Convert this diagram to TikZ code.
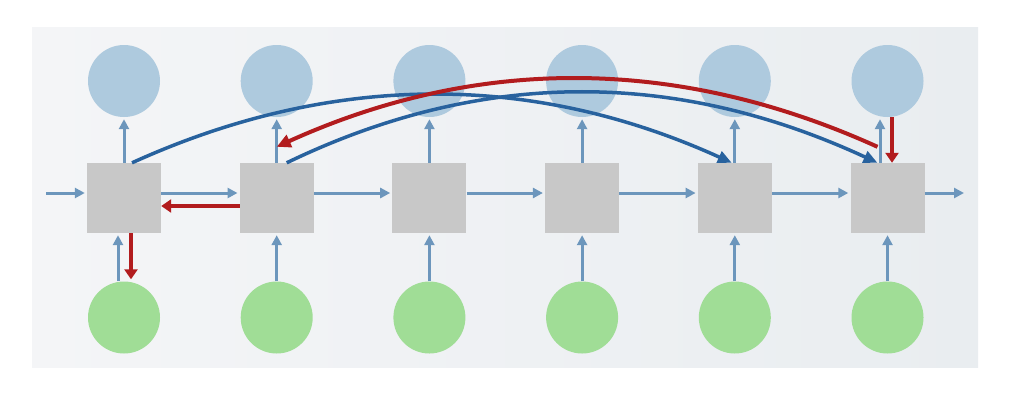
\documentclass[tikz,border=0pt]{standalone}
\usetikzlibrary{arrows.meta}
\definecolor{bgL}{RGB}{244,245,247}
\definecolor{bgR}{RGB}{233,237,240}
\definecolor{outc}{RGB}{174,202,222}
\definecolor{inc}{RGB}{160,221,150}
\definecolor{boxc}{RGB}{200,200,200}
\definecolor{arrc}{RGB}{108,150,188}
\definecolor{curvc}{RGB}{40,98,158}
\definecolor{redc}{RGB}{178,28,30}
\begin{document}
\begin{tikzpicture}[x=1pt,y=-1pt,
  cell/.style={rectangle, fill=boxc, minimum width=74pt, minimum height=70pt, inner sep=0pt},
  outn/.style={circle, fill=outc, minimum size=72pt, inner sep=0pt},
  inn/.style={circle, fill=inc, minimum size=72pt, inner sep=0pt},
  barrow/.style={draw=arrc, line width=3pt, -{Triangle[length=10pt,width=10pt]}, shorten >=2pt},
  rarrow/.style={draw=redc, line width=4.5pt, -{Triangle[length=10pt,width=13pt]}},
  bcurve/.style={draw=curvc, line width=3.5pt, -{Triangle[length=14pt,width=12pt]}},
  rcurve/.style={draw=redc, line width=4pt, -{Triangle[length=14pt,width=13pt]}}]
\useasboundingbox (0,0) rectangle (1024,413);
\fill[white] (0,0) rectangle (1024,413);
\shade[left color=bgL, right color=bgR] (32,27) rectangle (978,367);
% nodes
\foreach \i in {1,...,6}{
  \node[cell] (b\i) at ({124+152.7*(\i-1)},198) {};
  \node[outn] (o\i) at ({124+152.7*(\i-1)},81) {};
  \node[inn]  (g\i) at ({124+152.7*(\i-1)},317.5) {};
}
\coordinate (inp) at (46,193);
\coordinate (outp) at (966,193);
% horizontal chain
\draw[barrow] (inp) -- ([yshift=5pt]b1.west);
\foreach \i/\j in {1/2,2/3,3/4,4/5,5/6}
  \draw[barrow] ([yshift=5pt]b\i.east) -- ([yshift=5pt]b\j.west);
\draw[barrow] ([yshift=5pt]b6.east) -- (outp);
% vertical arrows
\foreach \i in {1,...,5}
  \draw[barrow] (b\i.north) -- (o\i.south);
\draw[barrow] ([xshift=-7.5pt]b6.north) -- ([xshift=-7.5pt]o6.south);
\foreach \i in {2,...,6}
  \draw[barrow] (g\i.north) -- (b\i.south);
\draw[barrow] ([xshift=-6pt]g1.north) -- ([xshift=-6pt]b1.south);
% red short arrows
\draw[rarrow] ([xshift=4.5pt]o6.south) -- ([xshift=4.5pt]b6.north);
\draw[rarrow] ([yshift=-8pt]b2.west) -- ([yshift=-8pt]b1.east);
\draw[rarrow] ([xshift=7pt]b1.south) -- ([xshift=7pt,yshift=2pt]g1.north);
% long curves
\draw[bcurve] ([xshift=8pt]b1.north) .. controls (332,72) and (532,72) .. ([xshift=-3pt]b5.north);
\draw[bcurve] ([xshift=10pt]b2.north) .. controls (481,69) and (675,69) .. ([xshift=-10pt]b6.north);
\draw[rcurve] ([xshift=-10pt,yshift=16pt]b6.north) .. controls (677,56) and (477,56) .. ([yshift=16pt]b2.north);
\end{tikzpicture}
\end{document}
